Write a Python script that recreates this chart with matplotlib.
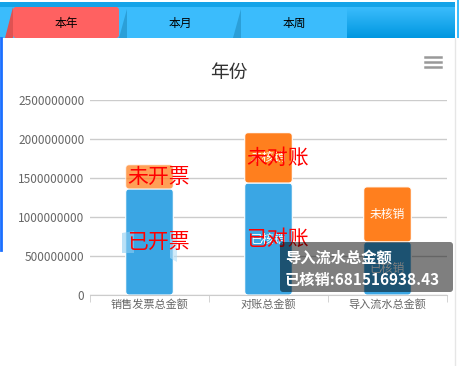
import numpy as np
import matplotlib.pyplot as plt
from matplotlib.patches import Rectangle, Polygon, FancyBboxPatch

plt.rcParams['font.family'] = ['Noto Sans CJK SC', 'DejaVu Sans']

categories = ['销售发票总金额', '对账总金额', '导入流水总金额']
done = [1360000000, 1436000000, 681516938.43]
todo = [310000000, 645000000, 705000000]
done_labels = ['已开票', '已对账', '已核销']
todo_labels = ['未开票', '未对账', '未核销']
tabs = ['本年', '本月', '本周']
title = '年份'
tip_title = '导入流水总金额'
tip_value = '已核销:681516938.43'

W, H = 460, 366
fig = plt.figure(figsize=(W / 100, H / 100), dpi=100)
fig.patch.set_facecolor('white')

# chart area
ax = fig.add_axes([90 / W, 71 / H, 357 / W, 195 / H])
x = np.arange(len(categories))
bw = 0.4
b1 = ax.bar(x, done, bw, color='#3aa6e4', zorder=2)
b2 = ax.bar(x, todo, bw, bottom=done, color='#ff7f1e', zorder=2)
ax.set_xlim(-0.5, 2.5)
ax.set_ylim(0, 2.5e9)

# rounded bars
asp = (2.5e9 / 195) / (3 / 357)
for bars in (b1, b2):
    for i, r in enumerate(bars):
        r.set_visible(False)
        fc = r.get_facecolor()
        alpha = 0.75 if (i == 0 and bars is b2) else 1
        p = FancyBboxPatch((r.get_x(), r.get_y()), r.get_width(), r.get_height(),
                           boxstyle='round,pad=0,rounding_size=0.03', mutation_aspect=asp,
                           facecolor=fc, edgecolor='white', linewidth=0.8, alpha=alpha, zorder=2)
        ax.add_patch(p)

ax.set_yticks(np.arange(0, 2.5e9 + 1, 5e8))
ax.set_yticklabels(['%d' % v for v in np.arange(0, 2.5e9 + 1, 5e8)])
ax.set_xticks(x)
ax.set_xticklabels(categories)
ax.set_xticks([-0.5, 0.5, 1.5, 2.5], minor=True)
ax.tick_params(axis='y', length=0, pad=4, labelsize=8.5, labelcolor='#666666')
ax.tick_params(axis='x', which='major', length=0, pad=3, labelsize=8, labelcolor='#666666')
ax.tick_params(axis='x', which='minor', length=5, color='#cccccc')
ax.grid(axis='y', color='#cccccc', linewidth=1, zorder=0)
for s in ['left', 'right', 'top']:
    ax.spines[s].set_visible(False)
ax.spines['bottom'].set_color('#cccccc')
ax.set_facecolor('none')

# value labels inside bars
for i in range(1, len(categories)):
    ax.text(i, done[i] + todo[i] / 2, todo_labels[2], color='white', fontsize=8.5,
            ha='center', va='center', zorder=3)
    ax.text(i, done[i] / 2, done_labels[2], color='white', fontsize=8.5,
            ha='center', va='center', zorder=3)

# overlay for decorations, in pixel coordinates
ov = fig.add_axes([0, 0, 1, 1], zorder=5)
ov.patch.set_visible(False)

# hover marks on first bar
ov.add_patch(Polygon([(122, 233), (134, 231), (134, 253), (122, 253)], color='#8ccdf2',
                     lw=0, alpha=0.6, zorder=2))
ov.add_patch(Polygon([(170, 231), (177, 236), (177, 262), (170, 258)], color='#b3def7',
                     lw=0, alpha=0.6, zorder=2))

# red overlay labels (data coords, drawn above hover marks)
for i in range(2):
    ov.text(i - 0.19, done[i] + todo[i] / 2, todo_labels[i], color='red', fontsize=15,
            ha='left', va='center', zorder=4, transform=ax.transData)
    ov.text(i - 0.19, done[i] / 2, done_labels[i], color='red', fontsize=15,
            ha='left', va='center', zorder=4, transform=ax.transData)

# header tabs
ov.add_patch(Rectangle((0, 1.5), 455, 6, color='#14a3e8', lw=0))
ov.add_patch(Rectangle((0, 7), 455, 31, color='#3bbcfc', lw=0))
ov.add_patch(Rectangle((457, 0), 3, 38, color='#3bbcfc', lw=0))
grad = np.linspace(0, 1, 50).reshape(-1, 1)
ov.imshow(grad, extent=(347, 455, 38, 7), aspect='auto',
          cmap=plt.matplotlib.colors.LinearSegmentedColormap.from_list('g', ['#3bbcfc', '#0097e0']),
          zorder=1)
ov.set_xlim(0, W)
ov.set_ylim(H, 0)
ov.axis('off')
ov.add_patch(Polygon([(13, 7), (5, 38), (13, 38)], color='#e05252', lw=0))
ov.add_patch(FancyBboxPatch((13, 7), 106, 31, boxstyle='round,pad=0,rounding_size=3',
                            color='#ff6161', lw=0))
for tx in [119, 233]:
    ov.add_patch(Polygon([(tx + 8, 9), (tx, 38), (tx + 8, 38)], color='#2b9fd8', lw=0))
for k, t in enumerate(tabs):
    ov.text(66 + 114 * k, 23, t, fontsize=8.5, color='black', ha='center', va='center')

# borders
ov.plot([1, 1], [38, 250], color='#1a6fff', lw=2)
ov.plot([455.5, 455.5], [38, 366], color='#e6e6e6', lw=1)

# title and menu
ov.text(229, 72, title, fontsize=13.5, color='#333333', ha='center', va='center')
for yy in (57, 62, 67):
    ov.plot([425, 441], [yy, yy], color='#999999', lw=1.8)

# tooltip
ov.add_patch(FancyBboxPatch((280, 242), 173, 50, boxstyle='round,pad=0,rounding_size=3',
                            facecolor='black', alpha=0.5, lw=0, zorder=5))
ov.text(285, 258, tip_title, fontsize=11, color='white', weight='bold', ha='left', va='center', zorder=6)
ov.text(285, 280, tip_value, fontsize=11, color='white', weight='bold', ha='left', va='center', zorder=6)

fig.savefig('out.png', dpi=100)
